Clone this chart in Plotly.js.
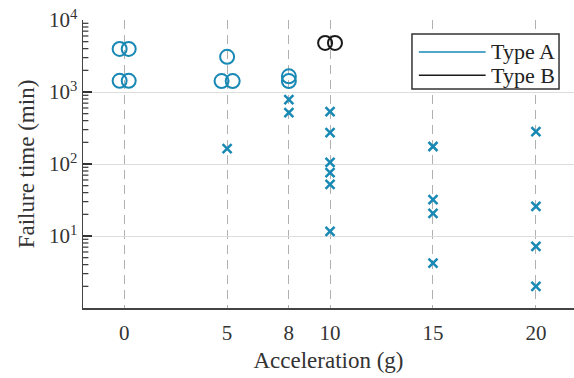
<!DOCTYPE html>
<html>
<head>
<meta charset="utf-8">
<script src="https://cdn.plot.ly/plotly-3.0.1.min.js"></script>
<style>html,body{margin:0;padding:0;background:#fff;}#chart{width:574px;height:378px;}</style>
</head>
<body>
<div id="chart"></div>
<script>
// Data
const xTickVals = [0, 5, 8, 10, 15, 20];
const xTickText = ["0", "5", "8", "10", "15", "20"];
const yTickVals = [10, 100, 1000, 10000];
const yTickText = ["10<sup>1</sup>", "10<sup>2</sup>", "10<sup>3</sup>", "10<sup>4</sup>"];
const seriesNames = ["Type A", "Type B"];

// Type A – open circles
const typeACircleX = [-0.22, 0.22, -0.22, 0.22, 5, 4.73, 5.27, 8, 8];
const typeACircleY = [3970, 3970, 1430, 1430, 3080, 1420, 1420, 1650, 1420];

// Type A – crosses
const typeACrossX = [5, 8, 8, 10, 10, 10, 10, 10, 10, 15, 15, 15, 15, 20, 20, 20, 20];
const typeACrossY = [164, 781, 516, 533, 273, 105, 76, 52, 11.6, 175, 32, 20.6, 4.2, 282, 25.8, 7.2, 2.0];

// Type B – open circles
const typeBCircleX = [9.76, 10.24];
const typeBCircleY = [4800, 4800];

const colA = '#1888b4';
const colB = '#1a1a1a';
const serif = '"Liberation Serif", "Times New Roman", serif';

const traces = [
  {x: typeACircleX, y: typeACircleY, mode: 'markers', name: seriesNames[0], showlegend: false,
   marker: {symbol: 'circle-open', size: 14, color: colA, line: {width: 2, color: colA}}},
  {x: typeACrossX, y: typeACrossY, mode: 'markers', name: seriesNames[0], showlegend: false,
   marker: {symbol: 'x-thin-open', size: 9, color: colA, line: {width: 2.5, color: colA}}},
  {x: typeBCircleX, y: typeBCircleY, mode: 'markers', name: seriesNames[1], showlegend: false,
   marker: {symbol: 'circle-open', size: 14, color: colB, line: {width: 2, color: colB}}}
];

const shapes = [];
// minor log ticks on the y axis (inside)
for (let d = 1; d <= 1000; d *= 10) {
  for (let k = 2; k <= 9; k++) {
    const v = k * d;
    shapes.push({type: 'line', xref: 'paper', yref: 'y', x0: 0, x1: 0.011, y0: v, y1: v,
                 line: {color: '#333', width: 1.2}, layer: 'above'});
  }
}

// Legend drawn as a boxed key (lines, as in the reference)
const legX0 = 0.670, legX1 = 0.9695, legY0 = 0.760, legY1 = 0.951;
const rowY = [0.889, 0.808];
shapes.push(
  {type: 'rect', xref: 'paper', yref: 'paper', x0: legX0, x1: legX1, y0: legY0, y1: legY1,
   line: {color: '#333', width: 1.5}, fillcolor: '#fff', layer: 'above'},
  {type: 'line', xref: 'paper', yref: 'paper', x0: 0.684, x1: 0.820, y0: rowY[0], y1: rowY[0],
   line: {color: colA, width: 1.5}, layer: 'above'},
  {type: 'line', xref: 'paper', yref: 'paper', x0: 0.684, x1: 0.820, y0: rowY[1], y1: rowY[1],
   line: {color: colB, width: 1.5}, layer: 'above'}
);
const annotations = seriesNames.map((n, i) => ({
  text: n, xref: 'paper', yref: 'paper', x: 0.826, y: rowY[i], xanchor: 'left', yanchor: 'middle',
  showarrow: false, font: {family: serif, size: 22, color: '#222'}
}));

const layout = {
  width: 574, height: 378,
  margin: {l: 83, r: 0, t: 20, b: 70},
  paper_bgcolor: '#fff', plot_bgcolor: '#fff',
  font: {family: serif, color: '#333', size: 21},
  showlegend: false,
  shapes: shapes,
  annotations: annotations,
  xaxis: {
    range: [-2, 21.85], tickmode: 'array', tickvals: xTickVals, ticktext: xTickText,
    showgrid: true, gridcolor: '#b0b0b0', griddash: '9px,6px', gridwidth: 1,
    showline: true, linecolor: '#444', linewidth: 1.5, ticks: '', zeroline: false,
    ticklabelstandoff: 5,
    tickfont: {family: serif, size: 21, color: '#333'},
    title: {text: 'Acceleration (g)', font: {family: serif, size: 23, color: '#333'}, standoff: 8}
  },
  yaxis: {
    type: 'log', range: [0, 4], tickmode: 'array', tickvals: yTickVals, ticktext: yTickText,
    showgrid: true, gridcolor: '#dddddd', gridwidth: 1,
    showline: true, linecolor: '#444', linewidth: 1.5, zeroline: false,
    ticks: 'inside', ticklen: 9, tickcolor: '#333', tickwidth: 1.3,
    tickfont: {family: serif, size: 21, color: '#333'},
    title: {text: 'Failure time (min)', font: {family: serif, size: 23, color: '#333'}, standoff: 8}
  }
};

Plotly.newPlot('chart', traces, layout, {displayModeBar: false, staticPlot: true});
</script>
</body>
</html>
